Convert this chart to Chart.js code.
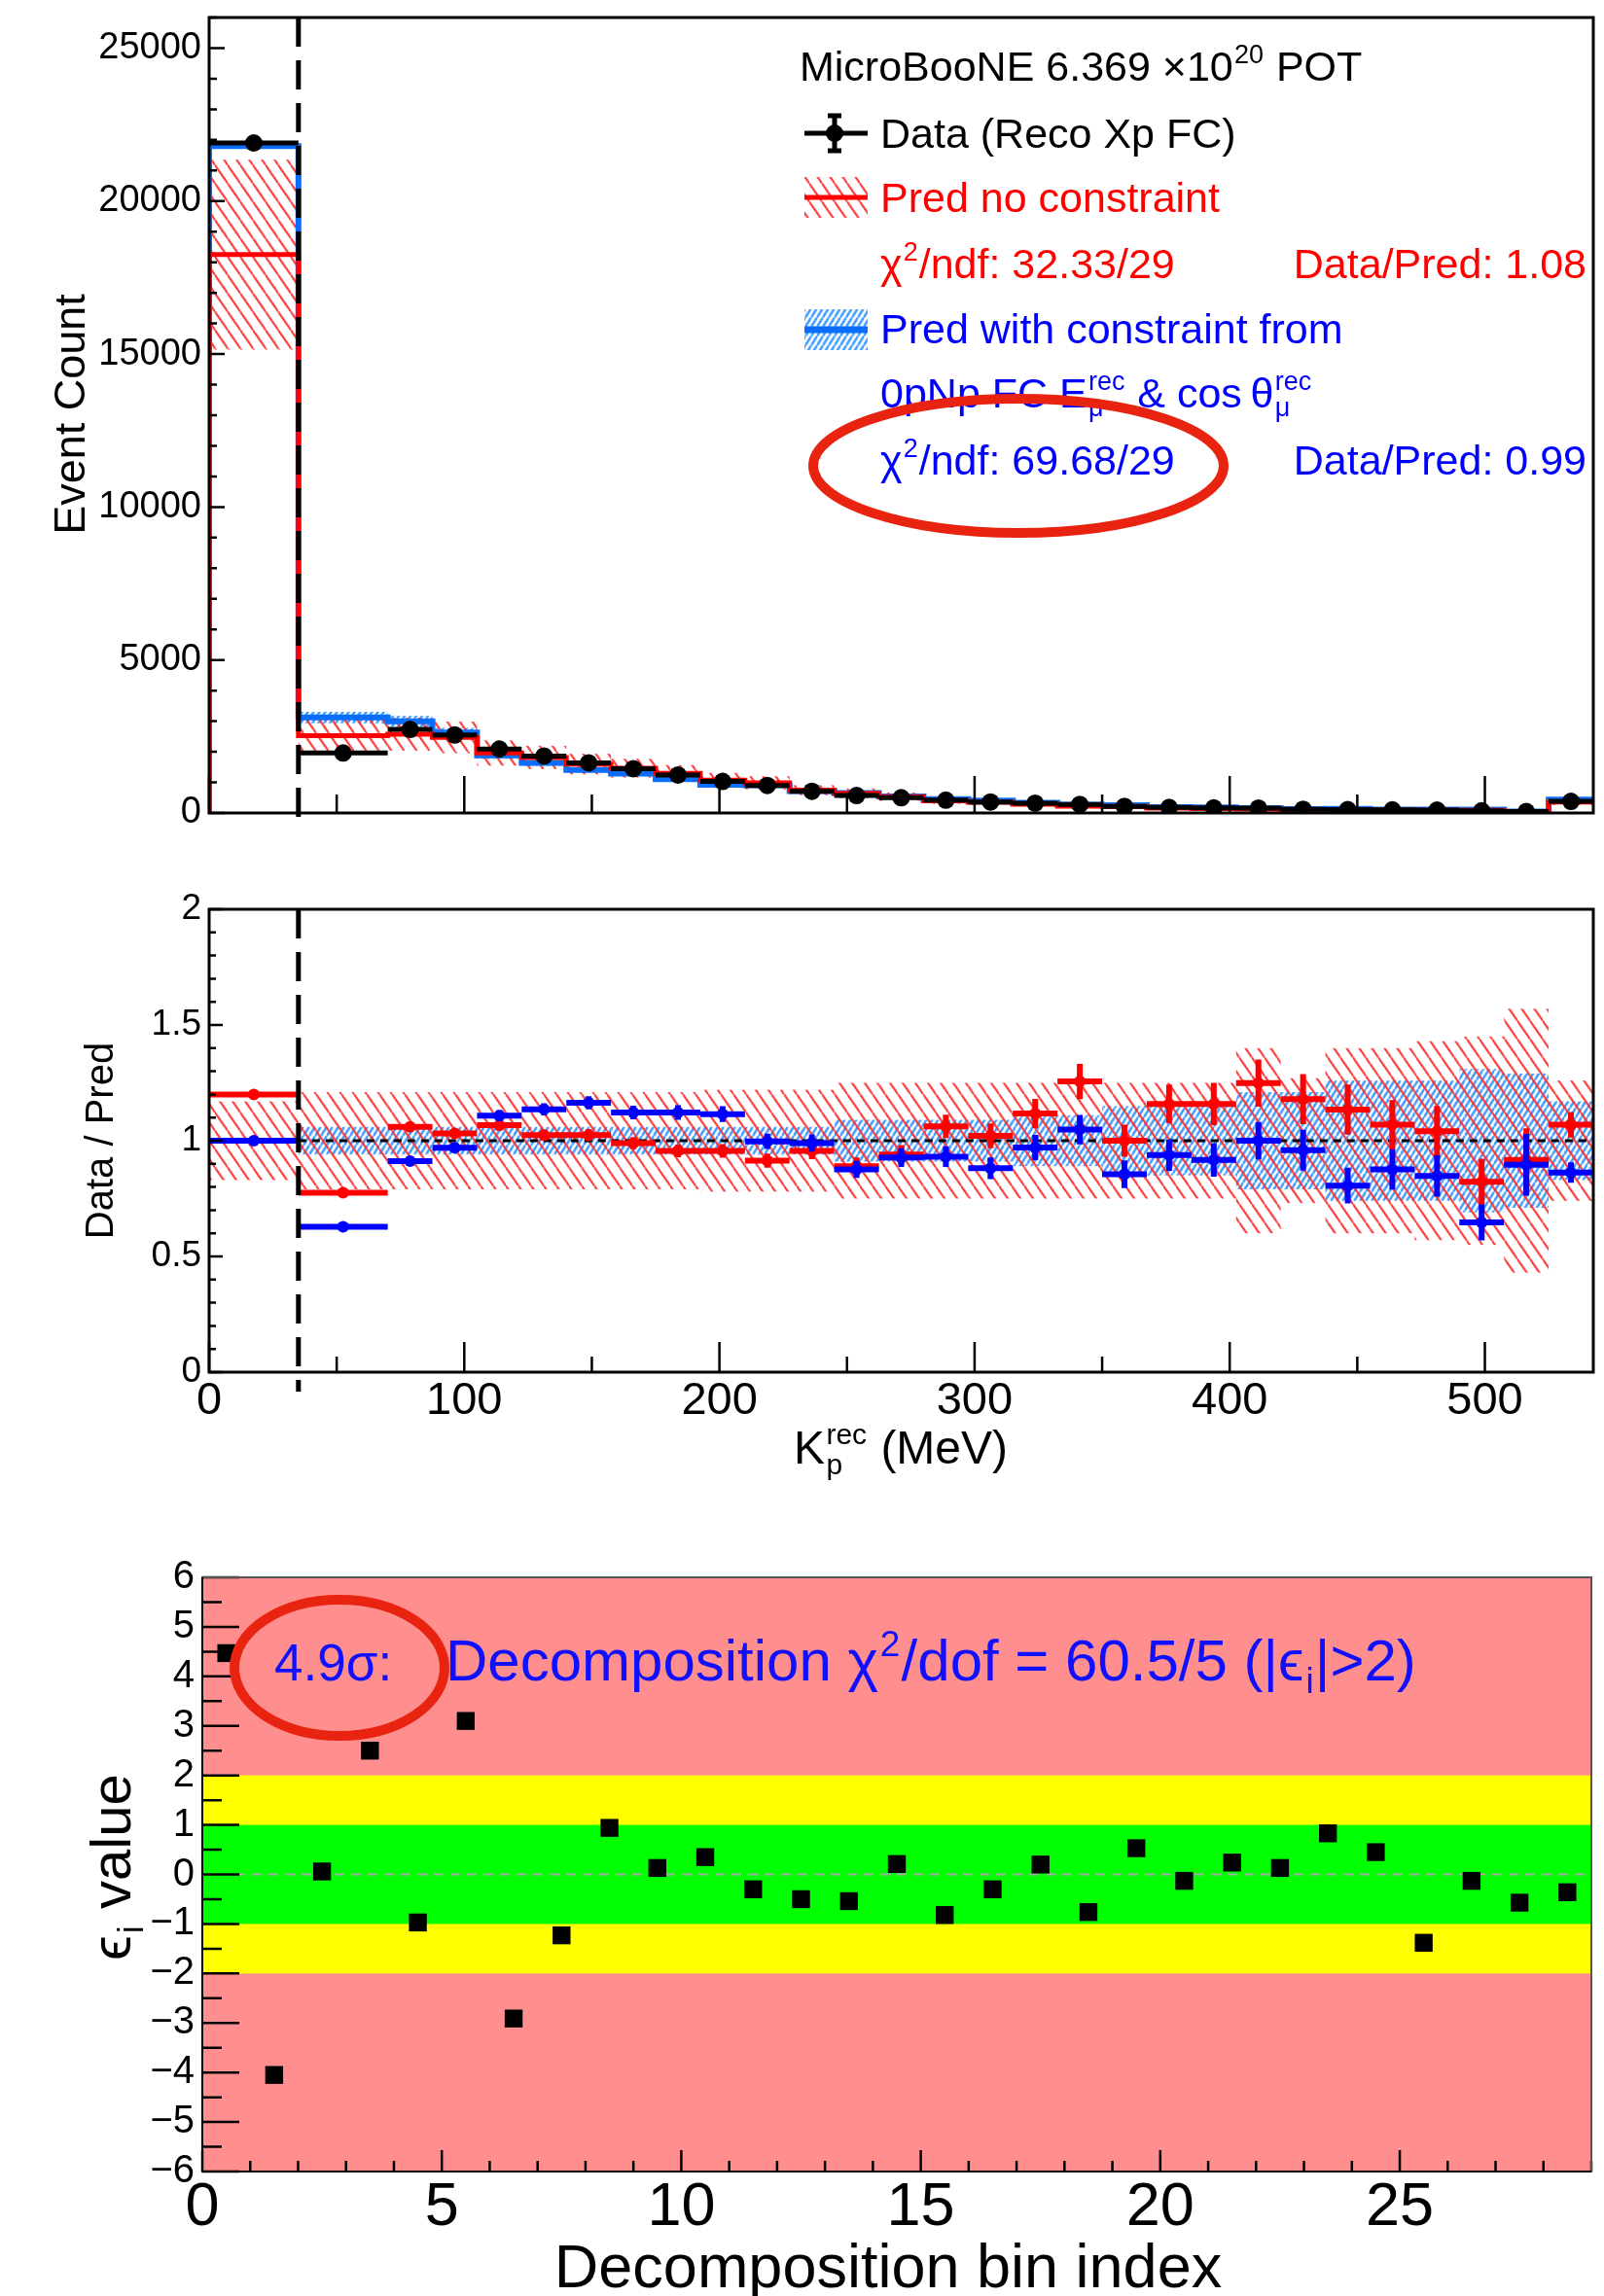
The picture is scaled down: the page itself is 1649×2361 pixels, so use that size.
<!DOCTYPE html>
<html>
<head>
<meta charset="utf-8">
<title>MicroBooNE Kp rec</title>
<script src="https://cdn.jsdelivr.net/npm/chart.js@4.4.1/dist/chart.umd.min.js"></script>
<style>
  html, body { margin: 0; padding: 0; background: #fff; }
  .panel { position: absolute; left: 0; }
  #topWrap { top: 0; }
  #ratioWrap { top: 880px; }
  #decoWrap { top: 1540px; }
</style>
</head>
<body>
<div class="panel" id="topWrap"><canvas id="topChart" width="1649" height="880"></canvas></div>
<div class="panel" id="ratioWrap"><canvas id="ratioChart" width="1649" height="660"></canvas></div>
<div class="panel" id="decoWrap"><canvas id="decoChart" width="1649" height="821"></canvas></div>
<script>
// ---- data ----
const binEdges = [0, 35, 70, 87.5, 105, 122.5, 140, 157.5, 175, 192.5, 210, 227.5, 245, 262.5, 280,
                  297.5, 315, 332.5, 350, 367.5, 385, 402.5, 420, 437.5, 455, 472.5, 490, 507.5, 525, 542.5];
const cutValue = 35;

const dataCounts = [21900, 1960, 2730, 2550, 2090, 1860, 1640, 1450, 1240, 1030, 900, 710, 570, 500, 420,
                    360, 320, 280, 215, 180, 165, 160, 120, 110, 100, 95, 70, 45, 380];
const dataErr = [148, 44, 52, 50, 46, 43, 40, 38, 35, 32, 30, 27, 24, 22, 20,
                 19, 18, 17, 15, 13, 13, 13, 11, 10.5, 10, 10, 8.4, 6.7, 19.5];
const predNoConstraint = [18250, 2530, 2575, 2470, 1960, 1815, 1600, 1465, 1295, 1075, 985, 745, 640, 532, 395,
                          353, 286, 223, 215, 155, 142, 128, 102, 97, 94, 91, 85, 49, 355];
const predConstrained = [21800, 3120, 2995, 2630, 1885, 1635, 1410, 1290, 1105, 925, 905, 715, 650, 539, 451,
                         409, 330, 267, 251, 192, 180, 160, 125, 136, 114, 112, 108, 50, 441];
// relative uncertainty of each prediction
const bandNoConstraint = [0.17, 0.21, 0.21, 0.21, 0.21, 0.21, 0.21, 0.21, 0.21, 0.22, 0.22, 0.22, 0.25, 0.25, 0.25,
                          0.25, 0.25, 0.25, 0.25, 0.25, 0.25, 0.40, 0.27, 0.40, 0.40, 0.43, 0.45, 0.57, 0.26];
const bandConstrained = [0.0, 0.06, 0.06, 0.06, 0.06, 0.06, 0.06, 0.06, 0.06, 0.06, 0.06, 0.06, 0.09, 0.09, 0.09,
                         0.09, 0.11, 0.11, 0.15, 0.15, 0.15, 0.21, 0.21, 0.26, 0.26, 0.26, 0.31, 0.29, 0.17];
const ratioNoConstraint = [1.20, 0.775, 1.06, 1.032, 1.067, 1.024, 1.024, 0.989, 0.956, 0.956, 0.914, 0.956, 0.89, 0.94, 1.062,
                           1.021, 1.118, 1.256, 1.0, 1.159, 1.159, 1.249, 1.18, 1.134, 1.069, 1.041, 0.823, 0.917, 1.069];
const ratioConstrained = [1.0, 0.628, 0.912, 0.97, 1.108, 1.136, 1.164, 1.122, 1.122, 1.115, 0.997, 0.99, 0.876, 0.927, 0.931,
                          0.881, 0.971, 1.048, 0.855, 0.938, 0.917, 1.0, 0.959, 0.806, 0.876, 0.848, 0.647, 0.896, 0.862];

const epsValues = [4.47, -4.05, 0.06, 2.50, -0.97, 3.10, -2.91, -1.23, 0.94, 0.13, 0.35, -0.30, -0.50, -0.54, 0.21,
                   -0.82, -0.30, 0.20, -0.76, 0.53, -0.13, 0.24, 0.13, 0.83, 0.45, -1.38, -0.13, -0.57, -0.36];
const sigmaBands = [1, 2];

const kTicks = [0, 100, 200, 300, 400, 500];
const kMinorTicks = [50, 150, 250, 350, 450];
const countTicks = [0, 5000, 10000, 15000, 20000, 25000];
const ratioTicks = [0, 0.5, 1, 1.5, 2];
const decoXTicks = [0, 5, 10, 15, 20, 25];
const decoYTicks = [-6, -5, -4, -3, -2, -1, 0, 1, 2, 3, 4, 5, 6];

// ---- style ----
const FONT = '"Liberation Sans", Arial, Helvetica, sans-serif';
const RED = '#FF0000';
const BLUE = '#0000FF';
const BLUE_HIST = '#0A6EFA';
Chart.defaults.font.family = FONT;
Chart.defaults.color = '#000';

const binCenters = binEdges.slice(0, -1).map((e, i) => (e + binEdges[i + 1]) / 2);
const histPoints = vals => [{ x: binEdges[0], y: 0 }].concat(
  binEdges.map((e, i) => ({ x: e, y: vals[Math.min(i, vals.length - 1)] })));

function hatch(color, gap, lw, slant, stretch) {
  const c = document.createElement('canvas');
  c.width = gap; c.height = gap;
  const g = c.getContext('2d');
  g.strokeStyle = color; g.lineWidth = lw;
  g.beginPath();
  for (const k of [-gap, 0, gap]) {
    if (slant > 0) { g.moveTo(k, 0); g.lineTo(k + gap, gap); }
    else { g.moveTo(k, gap); g.lineTo(k + gap, 0); }
  }
  g.stroke();
  const p = g.createPattern(c, 'repeat');
  if (p.setTransform) p.setTransform(new DOMMatrix().scale(1, stretch));
  return p;
}
const redHatch = hatch('#FF2A2A', 13, 1.6, 1, 1.45);
const blueHatch = hatch('#3D9BFF', 6, 2.0, -1, 1.6);

// text with super/subscripts: segs = ['text', {sup, sub}, ...]
function rich(ctx, segs, x, y, size, color, align) {
  const big = size + 'px ' + FONT, small = Math.round(size * 0.62) + 'px ' + FONT;
  const widthOf = s => {
    if (typeof s === 'string') { ctx.font = big; return ctx.measureText(s).width; }
    ctx.font = small;
    return Math.max(s.sup ? ctx.measureText(s.sup).width : 0, s.sub ? ctx.measureText(s.sub).width : 0) + size * 0.05;
  };
  const total = segs.reduce((a, s) => a + widthOf(s), 0);
  let cx = align === 'right' ? x - total : align === 'center' ? x - total / 2 : x;
  ctx.save();
  ctx.fillStyle = color; ctx.textAlign = 'left'; ctx.textBaseline = 'alphabetic';
  segs.forEach(s => {
    const w = widthOf(s);
    if (typeof s === 'string') { ctx.font = big; ctx.fillText(s, cx, y); }
    else {
      ctx.font = small;
      if (s.sup) ctx.fillText(s.sup, cx + size * 0.03, y - size * 0.42);
      if (s.sub) ctx.fillText(s.sub, cx + size * 0.03, y + size * 0.22);
    }
    cx += w;
  });
  ctx.restore();
}

function rotatedRich(ctx, segs, cx, cy, size, color) {
  ctx.save();
  ctx.translate(cx, cy);
  ctx.rotate(-Math.PI / 2);
  rich(ctx, segs, 0, size * 0.36, size, color, 'center');
  ctx.restore();
}

// ---- plugins ----
const errorBars = {
  id: 'errorBars',
  beforeDatasetDraw(chart, args) {
    const ds = chart.data.datasets[args.index];
    const eb = ds.errorBars;
    if (!eb) return;
    const { ctx, chartArea: ca, scales: { x, y } } = chart;
    ctx.save();
    ctx.beginPath(); ctx.rect(ca.left, ca.top, ca.width, ca.height); ctx.clip();
    ctx.strokeStyle = eb.color; ctx.lineWidth = eb.width;
    ctx.beginPath();
    ds.data.forEach((p, i) => {
      const py = y.getPixelForValue(p.y);
      ctx.moveTo(x.getPixelForValue(binEdges[i]), py);
      ctx.lineTo(x.getPixelForValue(binEdges[i + 1]), py);
      const px = x.getPixelForValue(p.x);
      ctx.moveTo(px, y.getPixelForValue(p.y - eb.err[i]));
      ctx.lineTo(px, y.getPixelForValue(p.y + eb.err[i]));
    });
    ctx.stroke();
    ctx.restore();
  }
};

const bands = {
  id: 'bands',
  beforeDatasetsDraw(chart, args, opts) {
    const { ctx, chartArea: ca, scales: { x, y } } = chart;
    ctx.save();
    ctx.beginPath(); ctx.rect(ca.left, ca.top, ca.width, ca.height); ctx.clip();
    (opts.list || []).forEach(b => {
      ctx.fillStyle = b.pattern;
      b.frac.forEach((f, i) => {
        if (!f) return;
        const c = typeof b.base === 'number' ? b.base : b.base[i];
        const x0 = x.getPixelForValue(binEdges[i]), x1 = x.getPixelForValue(binEdges[i + 1]);
        const y0 = y.getPixelForValue(c * (1 + f)), y1 = y.getPixelForValue(c * (1 - f));
        ctx.fillRect(x0, y0, x1 - x0, y1 - y0);
      });
    });
    if (opts.unity) {
      const py = y.getPixelForValue(1);
      ctx.strokeStyle = '#000'; ctx.lineWidth = 3; ctx.setLineDash([8, 6]);
      ctx.beginPath();
      ctx.moveTo(x.getPixelForValue(cutValue), py); ctx.lineTo(ca.right, py);
      ctx.stroke();
    }
    ctx.restore();
  }
};

const rootFrame = {
  id: 'rootFrame',
  afterDatasetsDraw(chart, args, o) {
    const { ctx, chartArea: ca, scales: { x, y } } = chart;
    ctx.save();
    ctx.strokeStyle = '#000'; ctx.lineWidth = 2.5;
    ctx.beginPath();
    const xt = (list, len) => list.forEach(v => {
      const px = x.getPixelForValue(v); ctx.moveTo(px, ca.bottom); ctx.lineTo(px, ca.bottom - len);
    });
    const yt = (list, len) => list.forEach(v => {
      const py = y.getPixelForValue(v); ctx.moveTo(ca.left, py); ctx.lineTo(ca.left + len, py);
    });
    xt(o.xMajor, o.len[0]); xt(o.xMinor, o.len[1]);
    yt(o.yMajor, o.len[2]); yt(o.yMinor, o.len[3]);
    ctx.stroke();
    ctx.strokeStyle = o.frameColor; ctx.lineWidth = o.frameWidth;
    ctx.strokeRect(ca.left, ca.top, ca.width, ca.height);
    if (o.leftAxis) {
      ctx.strokeStyle = '#000'; ctx.beginPath();
      ctx.moveTo(ca.left, ca.top); ctx.lineTo(ca.left, ca.bottom); ctx.lineTo(ca.right, ca.bottom); ctx.stroke();
    }
    if (o.cut) {
      const px = x.getPixelForValue(cutValue);
      ctx.strokeStyle = '#000'; ctx.lineWidth = 5; ctx.setLineDash([30, 14]);
      ctx.beginPath(); ctx.moveTo(px, ca.top); ctx.lineTo(px, ca.bottom + o.cut); ctx.stroke();
    }
    ctx.restore();
  }
};

const minorSteps = (lo, hi, step, skip) => {
  const out = [];
  for (let v = lo; v <= hi + 1e-9; v += step) if (!skip.some(s => Math.abs(s - v) < 1e-9)) out.push(+v.toFixed(4));
  return out;
};

const commonOpts = {
  responsive: false, animation: false, events: []
};
const axisFont = size => ({ size: size, family: FONT });
const plainLabel = v => String(v);
// fix an axis size and drop the label overhang padding so the plot frame lands where it should
const fixWidth = w => s => { s.width = w; s.paddingTop = s.paddingBottom = s.paddingLeft = s.paddingRight = 0; };
const fixHeight = h => s => { s.height = h; s.paddingTop = s.paddingBottom = s.paddingLeft = s.paddingRight = 0; };

// ---- top panel: event counts ----
const topLegend = {
  id: 'topLegend',
  afterDraw(chart) {
    const ctx = chart.ctx;
    const s = 43;
    rich(ctx, ['MicroBooNE 6.369 \u00d710', { sup: '20' }, ' POT'], 822, 83, s, '#000');
    // data symbol
    ctx.save();
    ctx.strokeStyle = '#000'; ctx.lineWidth = 5;
    ctx.beginPath();
    ctx.moveTo(827, 137); ctx.lineTo(892, 137);
    ctx.moveTo(858, 119); ctx.lineTo(858, 155);
    ctx.moveTo(851, 119); ctx.lineTo(865, 119);
    ctx.moveTo(851, 155); ctx.lineTo(865, 155);
    ctx.stroke();
    ctx.fillStyle = '#000'; ctx.beginPath(); ctx.arc(858, 137, 9, 0, Math.PI * 2); ctx.fill();
    // red symbol
    ctx.fillStyle = redHatch; ctx.fillRect(827, 182, 65, 42);
    ctx.strokeStyle = RED; ctx.lineWidth = 5;
    ctx.beginPath(); ctx.moveTo(827, 203); ctx.lineTo(892, 203); ctx.stroke();
    // blue symbol
    ctx.fillStyle = blueHatch; ctx.fillRect(827, 318, 65, 42);
    ctx.strokeStyle = BLUE_HIST; ctx.lineWidth = 7;
    ctx.beginPath(); ctx.moveTo(827, 339); ctx.lineTo(892, 339); ctx.stroke();
    ctx.restore();

    rich(ctx, ['Data (Reco Xp FC)'], 905, 152, s, '#000');
    rich(ctx, ['Pred no constraint'], 905, 218, s, RED);
    rich(ctx, ['\u03c7', { sup: '2' }, '/ndf: 32.33/29'], 905, 286, s, RED);
    rich(ctx, ['Data/Pred: 1.08'], 1631, 286, s, RED, 'right');
    rich(ctx, ['Pred with constraint from'], 905, 353, s, BLUE);
    rich(ctx, ['0pNp FC E', { sup: 'rec', sub: '\u03bc' }, ' & cos\u2009\u03b8', { sup: 'rec', sub: '\u03bc' }], 905, 419, s, BLUE);
    rich(ctx, ['\u03c7', { sup: '2' }, '/ndf: 69.68/29'], 905, 488, s, BLUE);
    rich(ctx, ['Data/Pred: 0.99'], 1631, 488, s, BLUE, 'right');

    rotatedRich(ctx, ['Event Count'], 71, 426, 45, '#000');

    ctx.save();
    ctx.strokeStyle = '#E8230F'; ctx.lineWidth = 10;
    ctx.beginPath(); ctx.ellipse(1047, 479, 211, 69, 0, 0, Math.PI * 2); ctx.stroke();
    ctx.restore();
  }
};

new Chart(document.getElementById('topChart'), {
  type: 'scatter',
  data: {
    datasets: [
      { type: 'scatter', label: 'Data (Reco Xp FC)', order: 0,
        data: binCenters.map((c, i) => ({ x: c, y: dataCounts[i] })),
        pointRadius: 9, pointBackgroundColor: '#000', pointBorderWidth: 0,
        errorBars: { err: dataErr, color: '#000', width: 5 } },
      { type: 'line', label: 'Pred no constraint', order: 1,
        data: histPoints(predNoConstraint), stepped: true,
        borderColor: RED, borderWidth: 5, pointRadius: 0, fill: false },
      { type: 'line', label: 'Pred with constraint', order: 2,
        data: histPoints(predConstrained), stepped: true,
        borderColor: BLUE_HIST, borderWidth: 6, pointRadius: 0, fill: false }
    ]
  },
  options: Object.assign({}, commonOpts, {
    layout: { autoPadding: false, padding: { left: 0, right: 11, top: 18, bottom: 44 } },
    scales: {
      x: { type: 'linear', min: 0, max: binEdges[binEdges.length - 1], display: false },
      y: { type: 'linear', min: 0, max: 26000,
           afterBuildTicks: s => { s.ticks = countTicks.map(v => ({ value: v })); },
           afterFit: fixWidth(215),
           grid: { display: false, drawTicks: false }, border: { display: false },
           ticks: { font: axisFont(38), color: '#000', padding: 8, autoSkip: false, callback: plainLabel } }
    },
    plugins: {
      legend: { display: false }, tooltip: { enabled: false },
      bands: { list: [
        { base: predConstrained, frac: bandConstrained, pattern: blueHatch },
        { base: predNoConstraint, frac: bandNoConstraint, pattern: redHatch }
      ] },
      rootFrame: { xMajor: kTicks, xMinor: kMinorTicks, yMajor: countTicks,
                   yMinor: minorSteps(0, 26000, 1000, countTicks), len: [38, 19, 16, 8],
                   frameColor: '#000', frameWidth: 3, cut: 18 }
    }
  }),
  plugins: [bands, errorBars, rootFrame, topLegend]
});

// ---- ratio panel ----
const ratioTitles = {
  id: 'ratioTitles',
  afterDraw(chart) {
    const ctx = chart.ctx;
    rotatedRich(ctx, ['Data / Pred'], 102, 293, 40, '#000');
    rich(ctx, ['K', { sup: 'rec', sub: 'p' }, ' (MeV)'], 926, 625, 48, '#000', 'center');
  }
};

new Chart(document.getElementById('ratioChart'), {
  type: 'scatter',
  data: {
    datasets: [
      { type: 'scatter', label: 'Data / Pred (constrained)', order: 0,
        data: binCenters.map((c, i) => ({ x: c, y: ratioConstrained[i] })),
        pointRadius: 6, pointBackgroundColor: BLUE, pointBorderWidth: 0,
        errorBars: { err: ratioConstrained.map((r, i) => r * dataErr[i] / dataCounts[i]), color: BLUE, width: 6 } },
      { type: 'scatter', label: 'Data / Pred (no constraint)', order: 1,
        data: binCenters.map((c, i) => ({ x: c, y: ratioNoConstraint[i] })),
        pointRadius: 6, pointBackgroundColor: RED, pointBorderWidth: 0,
        errorBars: { err: ratioNoConstraint.map((r, i) => r * dataErr[i] / dataCounts[i]), color: RED, width: 6 } }
    ]
  },
  options: Object.assign({}, commonOpts, {
    layout: { autoPadding: false, padding: { left: 0, right: 11, top: 55, bottom: 0 } },
    scales: {
      x: { type: 'linear', min: 0, max: binEdges[binEdges.length - 1],
           afterBuildTicks: s => { s.ticks = kTicks.map(v => ({ value: v })); },
           afterFit: fixHeight(129),
           grid: { display: false, drawTicks: false }, border: { display: false },
           ticks: { font: axisFont(47), color: '#000', padding: 2, maxRotation: 0, autoSkip: false, callback: plainLabel } },
      y: { type: 'linear', min: 0, max: 2,
           afterBuildTicks: s => { s.ticks = ratioTicks.map(v => ({ value: v })); },
           afterFit: fixWidth(215),
           grid: { display: false, drawTicks: false }, border: { display: false },
           ticks: { font: axisFont(37), color: '#000', padding: 8, autoSkip: false, callback: plainLabel } }
    },
    plugins: {
      legend: { display: false }, tooltip: { enabled: false },
      bands: { unity: true, list: [
        { base: 1, frac: bandConstrained, pattern: blueHatch },
        { base: 1, frac: bandNoConstraint, pattern: redHatch }
      ] },
      rootFrame: { xMajor: kTicks, xMinor: kMinorTicks, yMajor: ratioTicks,
                   yMinor: minorSteps(0, 2, 0.1, ratioTicks), len: [31, 16, 14, 7],
                   frameColor: '#000', frameWidth: 3, cut: 20 }
    }
  }),
  plugins: [bands, errorBars, rootFrame, ratioTitles]
});

// ---- decomposition panel ----
const decoBackground = {
  id: 'decoBackground',
  beforeDatasetsDraw(chart) {
    const { ctx, chartArea: ca, scales: { y } } = chart;
    ctx.save();
    ctx.fillStyle = '#FF8E8E';
    ctx.fillRect(ca.left, ca.top, ca.width, ca.height);
    const band = (lim, col) => {
      const t = y.getPixelForValue(lim), b = y.getPixelForValue(-lim);
      ctx.fillStyle = col; ctx.fillRect(ca.left, t, ca.width, b - t);
    };
    band(sigmaBands[1], '#FFFF00');
    band(sigmaBands[0], '#00FF00');
    const py = y.getPixelForValue(0);
    ctx.strokeStyle = '#A8A8A8'; ctx.lineWidth = 2; ctx.setLineDash([10, 7]);
    ctx.beginPath(); ctx.moveTo(ca.left, py); ctx.lineTo(ca.right, py); ctx.stroke();
    ctx.restore();
  },
  afterDraw(chart) {
    const ctx = chart.ctx;
    rich(ctx, ['4.9\u03c3:'], 282, 188, 53, '#1010FF');
    rich(ctx, ['Decomposition \u03c7', { sup: '2' }, '/dof = 60.5/5 (|\u03f5', { sub: 'i' }, '|>2)'],
         458, 188, 60, '#1010FF');
    ctx.save();
    ctx.strokeStyle = '#E8230F'; ctx.lineWidth = 10;
    ctx.beginPath(); ctx.ellipse(349, 175, 108, 70, 0, 0, Math.PI * 2); ctx.stroke();
    ctx.restore();
    rotatedRich(ctx, ['\u03f5', { sub: 'i' }, ' value'], 113, 380, 58, '#000');
    rich(ctx, ['Decomposition bin index'], 913, 812, 63, '#000', 'center');
  }
};

new Chart(document.getElementById('decoChart'), {
  type: 'scatter',
  data: {
    datasets: [
      { label: '\u03f5i', data: epsValues.map((v, i) => ({ x: i + 0.5, y: v })),
        pointStyle: 'rect', pointRadius: 13, pointBackgroundColor: '#000', pointBorderWidth: 0 }
    ]
  },
  options: Object.assign({}, commonOpts, {
    layout: { autoPadding: false, padding: { left: 0, right: 13, top: 82, bottom: 0 } },
    scales: {
      x: { type: 'linear', min: 0, max: 29,
           afterBuildTicks: s => { s.ticks = decoXTicks.map(v => ({ value: v })); },
           afterFit: fixHeight(128),
           grid: { display: false, drawTicks: false }, border: { display: false },
           ticks: { font: axisFont(63), color: '#000', padding: 0, maxRotation: 0, autoSkip: false, callback: plainLabel } },
      y: { type: 'linear', min: -6, max: 6,
           afterBuildTicks: s => { s.ticks = decoYTicks.map(v => ({ value: v })); },
           afterFit: fixWidth(208),
           grid: { display: false, drawTicks: false }, border: { display: false },
           ticks: { font: axisFont(40), color: '#000', padding: 8, autoSkip: false,
                    callback: v => (v < 0 ? '\u2212' + Math.abs(v) : String(v)) } }
    },
    plugins: {
      legend: { display: false }, tooltip: { enabled: false },
      rootFrame: { xMajor: decoXTicks, xMinor: minorSteps(0, 29, 1, decoXTicks), yMajor: decoYTicks,
                   yMinor: minorSteps(-5.5, 5.5, 1, []), len: [22, 11, 38, 20],
                   frameColor: '#555', frameWidth: 2, leftAxis: true }
    }
  }),
  plugins: [decoBackground, rootFrame]
});
</script>
</body>
</html>
